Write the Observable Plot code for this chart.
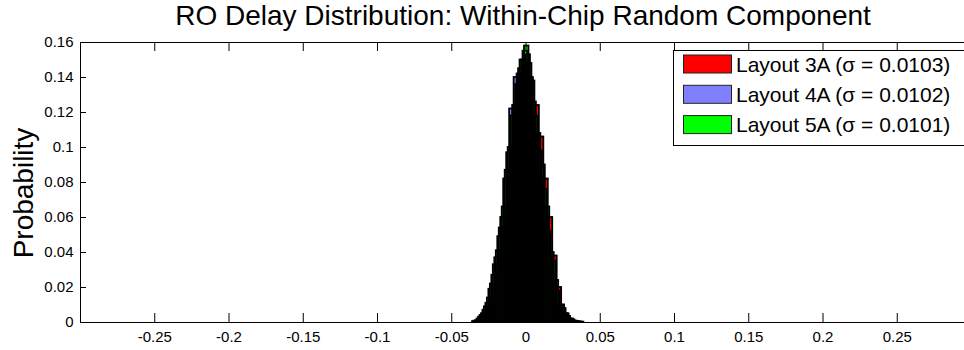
<!DOCTYPE html>
<html>
<head>
<meta charset="utf-8">
<script src="https://cdn.jsdelivr.net/npm/d3@7"></script>
<script src="https://cdn.jsdelivr.net/npm/@observablehq/plot@0.6"></script>
<style>
  html, body { margin: 0; padding: 0; background: #fff; }
  #chart { width: 964px; height: 350px; }
</style>
</head>
<body>
<div id="chart"></div>
<script>
// ---- data ----
const titleText = "RO Delay Distribution: Within-Chip Random Component";
const yLabelText = "Probability";

const xTicks = [-0.25, -0.2, -0.15, -0.1, -0.05, 0, 0.05, 0.1, 0.15, 0.2, 0.25];
const xTickLabels = ["-0.25", "-0.2", "-0.15", "-0.1", "-0.05", "0", "0.05", "0.1", "0.15", "0.2", "0.25"];
const yTicks = [0, 0.02, 0.04, 0.06, 0.08, 0.1, 0.12, 0.14, 0.16];
const yTickLabels = ["0", "0.02", "0.04", "0.06", "0.08", "0.1", "0.12", "0.14", "0.16"];

const seriesLabels = ["Layout 3A (\u03C3 = 0.0103)", "Layout 4A (\u03C3 = 0.0102)", "Layout 5A (\u03C3 = 0.0101)"];
const seriesColors = ["#ff0000", "#8080ff", "#00ff00"];

const binWidth = 0.003;
const redBinStart = -0.036;
const blueBinStart = -0.035;
const greenBinStart = -0.034;

const redProb = [0.0005, 0.002, 0.005, 0.011, 0.022, 0.037, 0.054, 0.082, 0.100, 0.124, 0.142, 0.150, 0.153,
                 0.138, 0.124, 0.106, 0.082, 0.060, 0.038, 0.020, 0.008, 0.0035, 0.0015, 0.0006, 0.0002];
const blueProb = [0.0008, 0.003, 0.007, 0.014, 0.027, 0.041, 0.060, 0.087, 0.122, 0.140, 0.145, 0.155, 0.148,
                  0.126, 0.108, 0.090, 0.066, 0.040, 0.024, 0.010, 0.005, 0.002, 0.0008, 0.0003, 0];
const greenProb = [0.001, 0.004, 0.009, 0.019, 0.033, 0.049, 0.066, 0.097, 0.118, 0.136, 0.150, 0.158, 0.140,
                   0.118, 0.098, 0.076, 0.052, 0.035, 0.018, 0.010, 0.005, 0.002, 0.0007, 0.0002, 0];

function bins(start, probs) {
  return probs.map((p, i) => ({x1: start + i * binWidth, x2: start + (i + 1) * binWidth, p}));
}
const redBins = bins(redBinStart, redProb);
const blueBins = bins(blueBinStart, blueProb);
const greenBins = bins(greenBinStart, greenProb);

const W = 964, H = 350;
const mL = 80, mR = -7, mT = 42, mB = 28;
const frameW = W - mL - mR, frameH = H - mT - mB;

const barPos = {x1: "x1", x2: "x2", y1: () => 0, y2: "p"};
const edge = {...barPos, fill: "none", stroke: "black", strokeWidth: 1.8};

const plot = Plot.plot({
  width: W, height: H,
  marginLeft: mL, marginRight: mR, marginTop: mT, marginBottom: mB,
  x: {domain: [-0.3, 0.3]},
  y: {domain: [0, 0.16]},
  style: {fontFamily: "'Liberation Sans', Arial, Helvetica, sans-serif", fontSize: "15px", color: "black", background: "white", overflow: "hidden"},
  marks: [
    Plot.rect(redBins, {...barPos, fill: seriesColors[0]}),
    Plot.rect(blueBins, {...barPos, fill: seriesColors[1]}),
    Plot.rect(greenBins, {...barPos, fill: seriesColors[2]}),
    Plot.rect(redBins, edge),
    Plot.rect(blueBins, edge),
    Plot.rect(greenBins, edge),
    Plot.frame({stroke: "black", strokeWidth: 1}),
    Plot.ruleX(xTicks, {insetTop: frameH - 9, stroke: "black"}),
    Plot.ruleX(xTicks, {insetBottom: frameH - 9, stroke: "black"}),
    Plot.ruleY(yTicks, {insetRight: frameW - 6, stroke: "black"}),
    Plot.axisX({ticks: xTicks, tickSize: 0, tickPadding: 9, label: null,
      tickFormat: d => xTickLabels[xTicks.indexOf(d)]}),
    Plot.axisY({ticks: yTicks, tickSize: 0, tickPadding: 7, label: null,
      tickFormat: d => yTickLabels[yTicks.indexOf(d)]})
  ]
});

const svg = d3.select(plot);
const font = "'Liberation Sans', Arial, Helvetica, sans-serif";

// title
svg.append("text")
  .attr("x", 523).attr("y", 25)
  .attr("text-anchor", "middle")
  .attr("font-family", font).attr("font-size", 28).attr("fill", "black")
  .text(titleText);

// y label
svg.append("text")
  .attr("transform", "translate(33,193) rotate(-90)")
  .attr("text-anchor", "middle")
  .attr("font-family", font).attr("font-size", 28).attr("fill", "black")
  .text(yLabelText);

// legend
const lg = svg.append("g").attr("text-anchor", "start");
lg.append("rect").attr("x", 673.5).attr("y", 50.5).attr("width", 300).attr("height", 95)
  .attr("fill", "white").attr("stroke", "black");
seriesLabels.forEach((label, i) => {
  const cy = 64 + i * 30.3;
  lg.append("rect").attr("x", 683.5).attr("y", cy - 9).attr("width", 48).attr("height", 18)
    .attr("fill", seriesColors[i]).attr("stroke", "#222");
  lg.append("text").attr("x", 736).attr("y", cy).attr("dy", "0.36em")
    .attr("text-anchor", "start")
    .attr("font-family", font).attr("font-size", 21).attr("fill", "black")
    .text(label);
});

document.getElementById("chart").appendChild(plot);
</script>
</body>
</html>
